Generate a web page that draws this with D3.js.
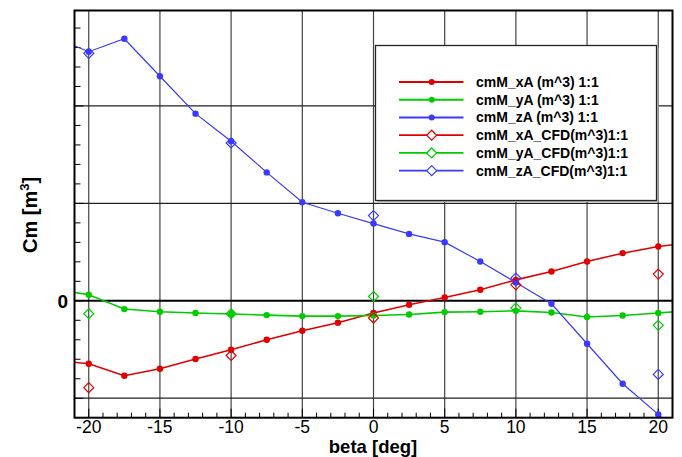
<!DOCTYPE html>
<html>
<head>
<meta charset="utf-8">
<script src="https://cdn.jsdelivr.net/npm/d3@7"></script>
<style>
  body { margin: 0; background: #fff; }
  svg { display: block; font-family: "Liberation Sans", Arial, sans-serif; }
</style>
</head>
<body>
<svg width="682" height="457"></svg>
<script>
// beta values, series sampled every 2.5 deg (end points beyond the frame are clipped)
const BETA = [-22.5,-20,-17.5,-15,-12.5,-10,-7.5,-5,-2.5,0,2.5,5,7.5,10,12.5,15,17.5,20,22.5];
const CM_XA = [-0.61,-0.646,-0.769,-0.697,-0.598,-0.503,-0.400,-0.308,-0.226,-0.126,-0.041,0.034,0.113,0.215,0.301,0.403,0.489,0.557,0.600];
const CM_YA = [0.121,0.062,-0.085,-0.113,-0.126,-0.136,-0.147,-0.157,-0.157,-0.151,-0.140,-0.116,-0.113,-0.103,-0.120,-0.167,-0.151,-0.126,-0.097];
const CM_ZA = [2.71,2.557,2.690,2.305,1.921,1.638,1.318,1.012,0.899,0.793,0.687,0.602,0.403,0.188,-0.031,-0.441,-0.851,-1.166,-1.49];

const BETA_CFD = [-20,-10,0,10,20];
const CFD_XA = [-0.892,-0.561,-0.177,0.164,0.274];
const CFD_YA = [-0.133,-0.133,0.044,-0.075,-0.252];
const CFD_ZA = [2.54,1.62,0.875,0.233,-0.756];

const X_TICKS = [-20,-15,-10,-5,0,5,10,15,20];
const Y_GRID = [-1,1,2];

const series = [
  {name:'cmM_xA (m^3) 1:1', x:BETA, y:CM_XA, color:'#e00000', marker:'dot', w:1.6},
  {name:'cmM_yA (m^3) 1:1', x:BETA, y:CM_YA, color:'#00cc00', marker:'dot', w:1.6},
  {name:'cmM_zA (m^3) 1:1', x:BETA, y:CM_ZA, color:'#3a3aff', marker:'dot', w:1.2},
  {name:'cmM_xA_CFD(m^3)1:1', x:BETA_CFD, y:CFD_XA, color:'#e00000', marker:'diamond', w:1.6},
  {name:'cmM_yA_CFD(m^3)1:1', x:BETA_CFD, y:CFD_YA, color:'#00cc00', marker:'diamond', w:1.6},
  {name:'cmM_zA_CFD(m^3)1:1', x:BETA_CFD, y:CFD_ZA, color:'#3a3aff', marker:'diamond', w:1.2}
];

const L = 74.5, R = 672.5, T = 10.5, B = 417.7;
const x = d3.scaleLinear().domain([-21, 21]).range([L, R]);
const y = d3.scaleLinear().domain([-1.2, 2.98]).range([B, T]);

const svg = d3.select('svg');
svg.append('defs').append('clipPath').attr('id','plot')
  .append('rect').attr('x',L).attr('y',T).attr('width',R-L).attr('height',B-T);

// grid
svg.append('g').selectAll('line').data(X_TICKS).enter().append('line')
  .attr('x1',d=>x(d)).attr('x2',d=>x(d)).attr('y1',T).attr('y2',B)
  .attr('stroke','#444').attr('stroke-width',1.2);
svg.append('g').selectAll('line').data(Y_GRID).enter().append('line')
  .attr('x1',L).attr('x2',R).attr('y1',d=>y(d)).attr('y2',d=>y(d))
  .attr('stroke','#222').attr('stroke-width',1.2);
svg.append('line').attr('x1',L).attr('x2',R).attr('y1',y(0)).attr('y2',y(0))
  .attr('stroke','#000').attr('stroke-width',2);

// minor ticks
const xMinor = d3.range(-21, 22, 1);
svg.append('g').selectAll('line').data(xMinor).enter().append('line')
  .attr('x1',d=>x(d)).attr('x2',d=>x(d))
  .attr('y1',B).attr('y2',d=> d%5===0 ? B-9 : B-5)
  .attr('stroke','#000').attr('stroke-width',1);
const yMinor = d3.range(-6, 15).map(i=>i*0.2);
svg.append('g').selectAll('line').data(yMinor).enter().append('line')
  .attr('y1',d=>y(d)).attr('y2',d=>y(d))
  .attr('x1',L).attr('x2',d=> Math.abs(d-Math.round(d))<1e-6 ? L+9 : L+6)
  .attr('stroke','#000').attr('stroke-width',1);

// series
const plot = svg.append('g').attr('clip-path','url(#plot)');
const line = d3.line();
const diamond = (cx,cy,s)=>`M${cx},${cy-s}L${cx+s},${cy}L${cx},${cy+s}L${cx-s},${cy}Z`;

series.forEach(s=>{
  const pts = s.x.map((v,i)=>[x(v), y(s.y[i])]);
  if (s.marker==='dot') {
    plot.append('path').attr('d', line(pts)).attr('fill','none')
      .attr('stroke', s.color).attr('stroke-width', s.w);
    plot.append('g').selectAll('circle').data(pts).enter().append('circle')
      .attr('cx',d=>d[0]).attr('cy',d=>d[1]).attr('r',3.2).attr('fill',s.color);
  } else {
    plot.append('g').selectAll('path').data(pts).enter().append('path')
      .attr('d',d=>diamond(d[0],d[1],5)).attr('fill','none')
      .attr('stroke',s.color).attr('stroke-width',1.2);
  }
});

// frame
svg.append('rect').attr('x',L).attr('y',T).attr('width',R-L).attr('height',B-T)
  .attr('fill','none').attr('stroke','#000').attr('stroke-width',2);

// tick labels
svg.append('g').selectAll('text').data(X_TICKS).enter().append('text')
  .attr('x',d=>x(d)).attr('y',432.5).attr('text-anchor','middle')
  .attr('font-size',17.5).attr('fill','#000').text(d=>d);
svg.append('text').attr('x',68).attr('y',y(0)+7).attr('text-anchor','end')
  .attr('font-size',19).attr('font-weight','bold').text('0');

// axis titles
svg.append('text').attr('x',373).attr('y',453).attr('text-anchor','middle')
  .attr('font-size',18.5).attr('font-weight','bold').text('beta [deg]');
const yt = svg.append('text').attr('transform','translate(37,215) rotate(-90)')
  .attr('text-anchor','middle').attr('font-size',20).attr('font-weight','bold');
yt.append('tspan').text('Cm [m');
yt.append('tspan').attr('font-size',13).attr('dy',-8).text('3');
yt.append('tspan').attr('dy',8).text(']');

// legend
const lg = svg.append('g');
lg.append('rect').attr('x',377).attr('y',47.5).attr('width',281.5).attr('height',154.5)
  .attr('fill','#bbb');
lg.append('rect').attr('x',375.5).attr('y',45.5).attr('width',281).attr('height',155)
  .attr('fill','#fff').attr('stroke','#222').attr('stroke-width',1.3);
const rowY = d3.scaleLinear().domain([0,5]).range([82,170.7]);
series.forEach((s,i)=>{
  const yy = rowY(i);
  lg.append('line').attr('x1',399).attr('x2',463.5).attr('y1',yy).attr('y2',yy)
    .attr('stroke',s.color).attr('stroke-width',1.8);
  if (s.marker==='dot') {
    lg.append('circle').attr('cx',431.7).attr('cy',yy).attr('r',3).attr('fill',s.color);
  } else {
    lg.append('path').attr('d',diamond(431.7,yy,5)).attr('fill','#fff')
      .attr('stroke',s.color).attr('stroke-width',1.2);
  }
  lg.append('text').attr('x',476).attr('y',yy+5).attr('font-size',14)
    .attr('font-weight','bold').attr('fill','#000').text(s.name);
});
</script>
</body>
</html>
